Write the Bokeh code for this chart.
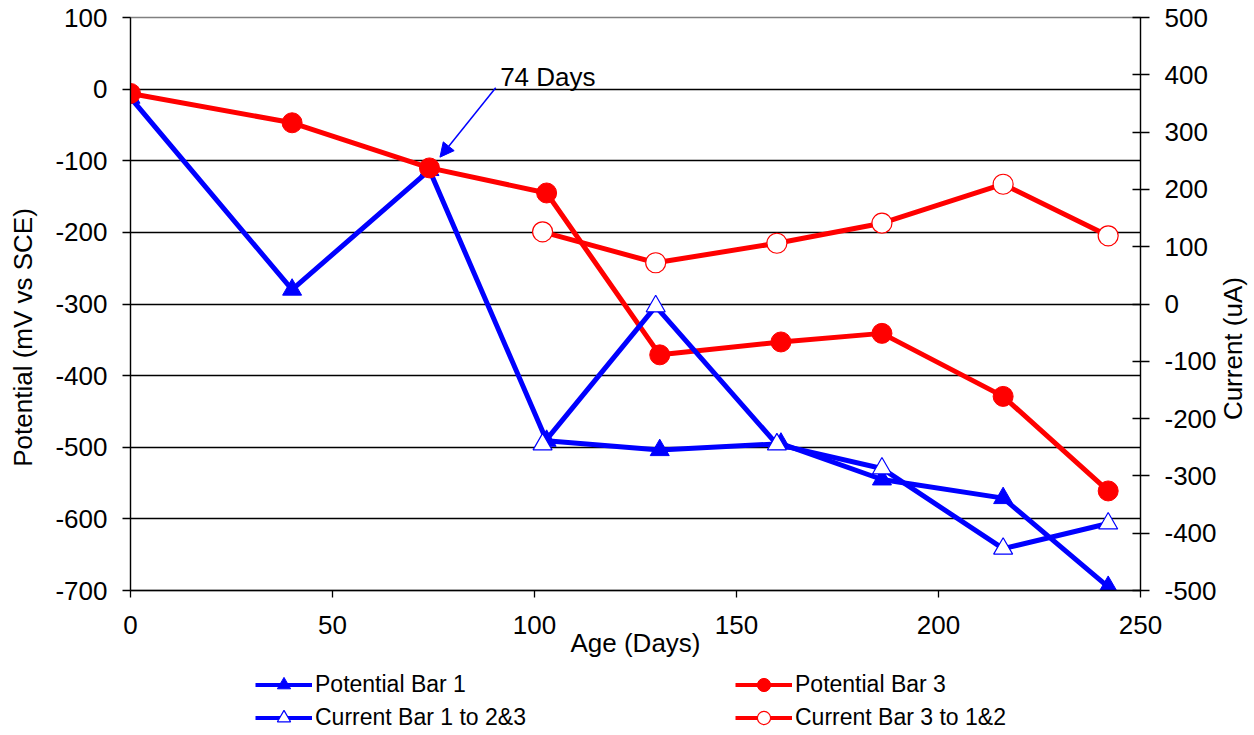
import math

from bokeh.plotting import figure
from bokeh.layouts import column, row
from bokeh.models import (Range1d, LinearAxis, FixedTicker, Legend, LegendItem,
                          Label, Arrow, NormalHead, NumeralTickFormatter)
from bokeh.embed import file_html
from bokeh.resources import INLINE

# Ages (days) of the potential readings and the readings on each bar (mV vs SCE)
age_potential = [0, 40, 74, 103, 131, 161, 186, 216, 242]
potential_bar1 = [-12, -280, -113, -491, -504, -495, -545, -571, -695]
potential_bar3 = [-6, -47, -110, -145, -371, -353, -341, -429, -561]

# Ages (days) of the current readings and the macrocell currents (uA)
age_current = [102, 130, 160, 186, 216, 242]
current_bar1 = [-245, -4, -245, -287, -427, -383]
current_bar3 = [126, 72, 106, 141, 209, 119]

x_ticks = [0, 50, 100, 150, 200, 250]
left_ticks = [-700, -600, -500, -400, -300, -200, -100, 0, 100]
right_ticks = [-500, -400, -300, -200, -100, 0, 100, 200, 300, 400, 500]

FONT = "Liberation Sans"
BLUE = "#0000ff"
RED = "#ff0000"
TOP_H = 668       # height of the chart row
LEG_H = 67        # height of the legend strip

# Series: (name, ages, values, axis, colour, marker, marker fill, outline width)
series = [
    ("Potential Bar 1", age_potential, potential_bar1, "default", BLUE, "triangle", BLUE, 1.0),
    ("Potential Bar 3", age_potential, potential_bar3, "default", RED, "circle", RED, 1.0),
    ("Current Bar 1 to 2&3", age_current, current_bar1, "current", BLUE, "triangle", "white", 1.2),
    ("Current Bar 3 to 1&2", age_current, current_bar3, "current", RED, "circle", "white", 1.2),
]
MARKER_SIZE = {"triangle": 19, "circle": 20}


def blank(width, height, x0=0, y0=0):
    f = figure(width=width, height=height, output_backend="svg",
               toolbar_location=None, x_axis_type=None, y_axis_type=None,
               x_range=Range1d(x0, x0 + width), y_range=Range1d(y0, y0 + height),
               min_border=0)
    f.outline_line_color = None
    f.grid.visible = False
    f.background_fill_color = "white"
    f.border_fill_color = "white"
    return f


def draw(fig, xs, ys, color, marker, fill, lw, width=5, **kw):
    ln = fig.line(xs, ys, line_color=color, line_width=width, **kw)
    mk = fig.scatter(xs, ys, marker=marker, size=MARKER_SIZE[marker],
                     fill_color=fill, line_color=color, line_width=lw, **kw)
    return ln, mk


# ---- main chart -------------------------------------------------------------
p = figure(width=1174, height=TOP_H, output_backend="svg", toolbar_location=None,
           x_range=Range1d(0, 250), y_range=Range1d(-700, 100),
           min_border_left=85, min_border_right=79,
           min_border_top=17, min_border_bottom=78)
p.extra_y_ranges = {"current": Range1d(-500, 500)}
p.background_fill_color = "white"
p.border_fill_color = "white"
p.outline_line_color = "#808080"
p.outline_line_width = 1.3


def style_axis(ax):
    ax.axis_line_color = "black"
    ax.axis_line_width = 1.3
    ax.major_tick_line_color = "black"
    ax.major_tick_line_width = 1.3
    ax.minor_tick_line_color = None
    ax.major_label_text_font = FONT
    ax.major_label_text_font_size = "26px"
    ax.major_label_text_color = "black"
    ax.formatter = NumeralTickFormatter(format="0")


xa = p.xaxis[0]
xa.ticker = FixedTicker(ticks=x_ticks)
style_axis(xa)
xa.major_tick_in = 0
xa.major_tick_out = 7
xa.major_label_standoff = 18
xa.axis_label = "Age (Days)"
xa.axis_label_text_font = FONT
xa.axis_label_text_font_size = "26px"
xa.axis_label_text_font_style = "normal"
xa.axis_label_text_color = "black"
xa.axis_label_standoff = -9

ya = p.yaxis[0]
ya.ticker = FixedTicker(ticks=left_ticks)
style_axis(ya)
ya.major_tick_in = 0
ya.major_tick_out = 8
ya.major_label_standoff = 15

ra = LinearAxis(y_range_name="current", ticker=FixedTicker(ticks=right_ticks))
style_axis(ra)
ra.major_tick_in = 8
ra.major_tick_out = 9
ra.major_label_standoff = 15
p.add_layout(ra, "right")

p.xgrid.grid_line_color = None
p.ygrid.ticker = FixedTicker(ticks=[-600, -500, -400, -300, -200, -100, 0])
p.ygrid.grid_line_color = "black"
p.ygrid.grid_line_width = 1.3

for name, xs, ys, axis, color, marker, fill, lw in series:
    draw(p, xs, ys, color, marker, fill, lw, y_range_name=axis)

# Callout for the 74-day reading
p.add_layout(Arrow(end=NormalHead(size=14, fill_color=BLUE, line_color=BLUE),
                   x_start=90.4, y_start=2, x_end=76.6, y_end=-95,
                   line_color=BLUE, line_width=1.5))
p.add_layout(Label(x=91.5, y=17, text="74 Days", text_align="left",
                   text_baseline="middle", text_font=FONT,
                   text_font_size="26px", text_color="black"))

# ---- vertical axis titles ---------------------------------------------------
lt = blank(45, TOP_H)
lt.add_layout(Label(x=22, y=295, text="Potential (mV vs SCE)",
                    angle=math.pi / 2, text_align="center", text_baseline="middle",
                    text_font=FONT, text_font_size="26px", text_color="black"))

rt = blank(35, TOP_H)
rt.add_layout(Label(x=13, y=282, text="Current (uA)",
                    angle=math.pi / 2, text_align="center", text_baseline="middle",
                    text_font=FONT, text_font_size="26px", text_color="black"))

# ---- legend strip (its ranges keep the series themselves out of view) -------
lg = blank(1254, LEG_H, x0=5000, y0=5000)
items = {}
for name, xs, ys, axis, color, marker, fill, lw in series:
    ln, mk = draw(lg, xs, ys, color, marker, fill, lw, width=4)
    items[name] = LegendItem(label=name, renderers=[ln, mk])


def make_legend(names, x):
    leg = Legend(items=[items[n] for n in names], location=(x, 1),
                 orientation="vertical", glyph_width=57, glyph_height=33,
                 label_standoff=3, spacing=0, padding=0, margin=0,
                 border_line_color=None, background_fill_alpha=0,
                 label_text_font=FONT, label_text_font_size="23px",
                 label_text_color="black")
    lg.add_layout(leg, "center")


make_legend(["Potential Bar 1", "Current Bar 1 to 2&3"], 255)
make_legend(["Potential Bar 3", "Current Bar 3 to 1&2"], 735)

layout = column(row(lt, p, rt, spacing=0), lg, spacing=0)

open("out.html", "w").write(file_html(layout, INLINE))
